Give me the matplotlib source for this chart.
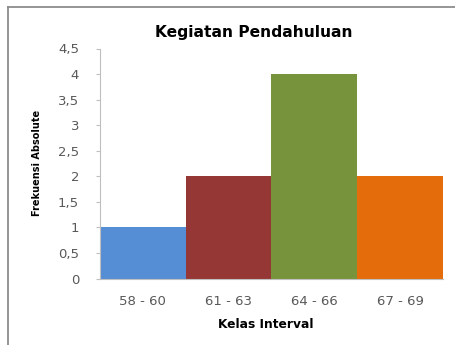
import matplotlib
matplotlib.use("Agg")
import matplotlib.pyplot as plt
from matplotlib.lines import Line2D

categories = ["58 - 60", "61 - 63", "64 - 66", "67 - 69"]
values = [1, 2, 4, 2]
colors = ["#558ED5", "#953735", "#77933C", "#E46C0A"]
yticks = [0, 0.5, 1, 1.5, 2, 2.5, 3, 3.5, 4, 4.5]
ytick_labels = ["0", "0,5", "1", "1,5", "2", "2,5", "3", "3,5", "4", "4,5"]

W, H = 456, 345
fig = plt.figure(figsize=(W/100, H/100), dpi=100)
fig.patch.set_facecolor("white")

# outer border (left and top only visible)
fig.lines.append(Line2D([8.5/W, 8.5/W], [0, 1 - 6.5/H], transform=fig.transFigure,
                        color="#8C8C8C", linewidth=1.3))
fig.lines.append(Line2D([8.5/W, 1], [1 - 6.5/H, 1 - 6.5/H], transform=fig.transFigure,
                        color="#8C8C8C", linewidth=1.3))

ax = fig.add_axes([100/W, 1 - 278.5/H, (443-100)/W, (278.5-48.5)/H])
x = list(range(len(categories)))
ax.bar(x, values, width=1.0, color=colors, edgecolor="none")
ax.set_xlim(-0.5, len(categories) - 0.5)
ax.set_ylim(0, 4.5)
ax.set_yticks(yticks)
ax.set_yticklabels(ytick_labels)
ax.set_xticks(x)
ax.set_xticklabels(categories)

for s in ["top", "right"]:
    ax.spines[s].set_visible(False)
ax.spines["left"].set_color("#BFBFBF")
ax.spines["bottom"].set_color("#BFBFBF")
ax.tick_params(axis="y", length=3, color="#BFBFBF", labelsize=9.5, labelcolor="#595959", pad=12)
ax.tick_params(axis="x", length=0, labelsize=9.5, labelcolor="#595959", pad=12)

fig.text(254/W, 1 - 32.5/H, "Kegiatan Pendahuluan", ha="center", va="center",
         fontsize=11.2, fontweight="bold", color="black")
fig.text(37/W, 1 - 163/H, "Frekuensi Absolute", ha="center", va="center",
         rotation=90, fontsize=7, fontweight="bold", color="black")
fig.text(266/W, 1 - 325/H, "Kelas Interval", ha="center", va="center",
         fontsize=8.8, fontweight="bold", color="black")

fig.savefig("out.png", dpi=100)
